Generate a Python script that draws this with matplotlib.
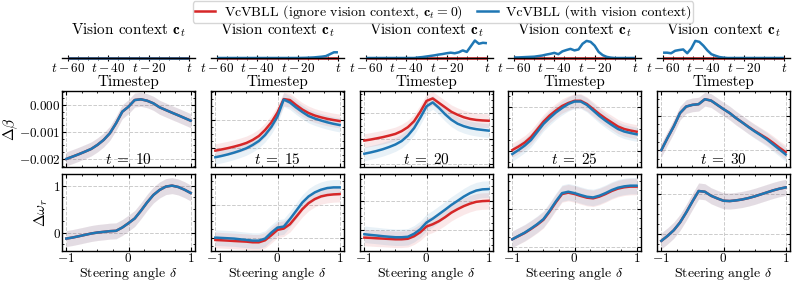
import numpy as np
import matplotlib
matplotlib.use("Agg")
import matplotlib.pyplot as plt
from matplotlib.ticker import AutoMinorLocator, MultipleLocator, FixedLocator

plt.rcParams.update({
    "font.family": "serif",
    "font.serif": ["cmr10", "DejaVu Serif"],
    "mathtext.fontset": "cm",
    "axes.formatter.use_mathtext": True,
    "axes.unicode_minus": True,
    "font.size": 11,
})

RED = "#d62728"
BLUE = "#1f77b4"

# ---------------- data ----------------
time_steps = [-60, -58, -56, -54, -52, -50, -48, -46, -44, -42, -40, -38, -36, -34, -32, -30,
              -28, -26, -24, -22, -20, -18, -16, -14, -12, -10, -8, -6, -4, -2, 0]
time_tick_labels = ["$t-60$", "$t-40$", "$t-20$", "$t$"]
t_values = [10, 15, 20, 25, 30]

ctx_t10 = [0.0] * 31
ctx_t15 = [0, 0, 0, 0, 0, 0, 0, 0, 0, 0, 0, 0, 0, 0, 0, 0, 0, 0, 0, 0, 0,
           0.005, 0.01, 0.02, 0.03, 0.05, 0.07, 0.10, 0.20, 0.30, 0.30]
ctx_t20 = [0, 0, 0, 0, 0, 0, 0, 0, 0, 0, 0, 0, 0,
           0.03, 0.05, 0.08, 0.11, 0.14, 0.18, 0.21, 0.25, 0.28, 0.25, 0.30, 0.40, 0.32,
           0.62, 0.92, 0.75, 0.80, 0.78]
ctx_t25 = [0.03, 0.03, 0.04, 0.05, 0.06, 0.07, 0.10, 0.13, 0.18, 0.22, 0.27, 0.20, 0.35,
           0.42, 0.48, 0.40, 0.45, 0.75, 0.90, 0.85, 0.65, 0.32, 0.15, 0.06, 0.02, 0.0,
           0, 0, 0, 0, 0]
ctx_t30 = [0.28, 0.28, 0.25, 0.38, 0.42, 0.45, 0.25, 0.50, 0.90, 0.85, 0.65, 0.40, 0.20,
           0.12, 0.05, 0.02, 0, 0, 0, 0, 0, 0, 0, 0, 0, 0, 0, 0, 0, 0, 0]
ctx_zero = [0.0] * 31

delta = [-1.0, -0.9, -0.8, -0.7, -0.6, -0.5, -0.4, -0.3, -0.2, -0.1, 0.0,
         0.1, 0.2, 0.3, 0.4, 0.5, 0.6, 0.7, 0.8, 0.9, 1.0]

# Delta beta (x 1e-3)
beta_blue_t10 = [-2.0, -1.915, -1.826, -1.730, -1.63, -1.48, -1.296, -1.048, -0.678, -0.248, -0.063,
                 0.185, 0.211, 0.159, 0.063, -0.085, -0.185, -0.285, -0.381, -0.481, -0.581]
beta_red_t10 = beta_blue_t10
beta_red_t15 = [-1.108, -1.065, -1.018, -0.964, -0.903, -0.830, -0.722, -0.578, -0.361, -0.090, 0.271,
                0.758, 0.722, 0.542, 0.379, 0.253, 0.162, 0.097, 0.043, 0.0, -0.036]
beta_blue_t15 = [-1.347, -1.300, -1.245, -1.181, -1.108, -1.022, -0.903, -0.758, -0.542, -0.253, 0.126,
                 0.740, 0.632, 0.451, 0.289, 0.144, 0.054, -0.018, -0.083, -0.137, -0.181]
beta_red_t20 = [-1.078, -1.039, -0.992, -0.942, -0.883, -0.817, -0.708, -0.553, -0.319, 0.051, 0.479,
                0.576, 0.401, 0.226, 0.051, -0.066, -0.163, -0.229, -0.268, -0.288, -0.300]
beta_blue_t20 = [-1.595, -1.545, -1.486, -1.416, -1.331, -1.233, -1.097, -0.883, -0.591, -0.183, 0.265,
                 0.420, 0.206, -0.047, -0.261, -0.416, -0.514, -0.584, -0.630, -0.661, -0.689]
beta_red_t25 = [-0.984, -0.905, -0.814, -0.689, -0.518, -0.341, -0.200, -0.086, 0.016, 0.084, 0.134,
                0.134, 0.061, -0.052, -0.166, -0.268, -0.359, -0.450, -0.507, -0.541, -0.568]
beta_blue_t25 = [-1.075, -0.984, -0.882, -0.757, -0.575, -0.393, -0.257, -0.132, -0.030, 0.061, 0.118,
                 0.118, 0.039, -0.086, -0.211, -0.318, -0.416, -0.507, -0.564, -0.598, -0.627]
beta_blue_t30 = [-0.999, -0.643, -0.308, 0.078, 0.268, 0.317, 0.337, 0.481, 0.441, 0.317, 0.193,
                 0.078, -0.066, -0.193, -0.326, -0.452, -0.568, -0.692, -0.836, -0.980, -1.124]
beta_red_t30 = [-0.999, -0.643, -0.308, 0.078, 0.268, 0.317, 0.337, 0.481, 0.441, 0.317, 0.193,
                0.078, -0.066, -0.190, -0.320, -0.440, -0.550, -0.660, -0.790, -0.930, -1.058]

# Delta omega_r
omega_blue_t10 = [-0.129, -0.107, -0.079, -0.050, -0.021, 0.0, 0.014, 0.029, 0.036, 0.107, 0.200,
                  0.300, 0.464, 0.643, 0.800, 0.907, 0.979, 1.000, 0.971, 0.914, 0.843]
omega_red_t10 = omega_blue_t10
omega_blue_t15 = [0.0, -0.005, -0.010, -0.015, -0.026, -0.036, -0.046, -0.046, -0.015, 0.077, 0.155,
                  0.170, 0.284, 0.412, 0.541, 0.634, 0.696, 0.737, 0.763, 0.773, 0.773]
omega_red_t15 = [-0.036, -0.041, -0.046, -0.052, -0.057, -0.062, -0.072, -0.072, -0.041, 0.036, 0.119,
                 0.139, 0.206, 0.320, 0.438, 0.531, 0.593, 0.634, 0.655, 0.665, 0.670]
omega_blue_t20 = [-0.068, -0.080, -0.090, -0.102, -0.111, -0.119, -0.119, -0.111, -0.060, 0.017, 0.131,
                  0.196, 0.273, 0.350, 0.430, 0.500, 0.572, 0.631, 0.674, 0.695, 0.700]
omega_red_t20 = [-0.125, -0.130, -0.137, -0.142, -0.148, -0.154, -0.154, -0.145, -0.102, -0.034, 0.063,
                 0.102, 0.154, 0.222, 0.299, 0.358, 0.410, 0.452, 0.483, 0.495, 0.500]
omega_blue_t25 = [0.098, 0.143, 0.187, 0.241, 0.299, 0.366, 0.478, 0.603, 0.714, 0.732, 0.714,
                  0.688, 0.665, 0.656, 0.679, 0.714, 0.755, 0.786, 0.804, 0.813, 0.813]
omega_red_t25 = [0.098, 0.140, 0.182, 0.235, 0.292, 0.358, 0.468, 0.591, 0.702, 0.720, 0.702,
                 0.676, 0.653, 0.644, 0.667, 0.702, 0.743, 0.774, 0.792, 0.801, 0.801]
omega_blue_t30 = [-0.083, -0.021, 0.050, 0.146, 0.271, 0.408, 0.538, 0.529, 0.479, 0.446, 0.417,
                  0.413, 0.421, 0.433, 0.450, 0.471, 0.496, 0.521, 0.546, 0.567, 0.583]
omega_red_t30 = omega_blue_t30

beta_std = [0.26e-3, 0.25e-3, 0.27e-3, 0.16e-3, 0.20e-3]
omega_std = [0.17, 0.12, 0.14, 0.11, 0.10]

ctx_blue = [ctx_t10, ctx_t15, ctx_t20, ctx_t25, ctx_t30]
beta_red = [beta_red_t10, beta_red_t15, beta_red_t20, beta_red_t25, beta_red_t30]
beta_blue = [beta_blue_t10, beta_blue_t15, beta_blue_t20, beta_blue_t25, beta_blue_t30]
omega_red = [omega_red_t10, omega_red_t15, omega_red_t20, omega_red_t25, omega_red_t30]
omega_blue = [omega_blue_t10, omega_blue_t15, omega_blue_t20, omega_blue_t25, omega_blue_t30]

# axis settings (layout / styling)
beta_ylims = [(-2.3e-3, 0.52e-3), (-1.70e-3, 1.05e-3), (-2.117e-3, 0.868e-3),
              (-1.37e-3, 0.357e-3), (-1.49e-3, 0.72e-3)]
beta_yticks = [[-2e-3, -1e-3, 0.0], [-1e-3, 0.0], [-2e-3, -1e-3, 0.0], [-1e-3, 0.0], [-1e-3, 0.0]]
omega_ylims = [(-0.394, 1.248), (-0.206, 0.979), (-0.353, 0.956), (-0.059, 0.969), (-0.209, 0.75)]
omega_yticks = [[0, 1], [0, 0.5], [0, 0.5], [0, 0.5], [0, 0.5]]

W, H = 794, 282
fig = plt.figure(figsize=(W / 100, H / 100), dpi=100)

lefts = [62, 211, 360, 508, 657]
width = 133


def ax_at(left, top, w, h):
    return fig.add_axes([left / W, 1 - (top + h) / H, w / W, h / H])


def style_box(ax):
    for s in ax.spines.values():
        s.set_linewidth(1.0)
    ax.tick_params(which="both", direction="in", top=True, right=True, labelsize=9.5, pad=1.0)
    ax.tick_params(which="major", length=3, width=0.8)
    ax.tick_params(which="minor", length=1.6, width=0.6)
    ax.grid(True, which="major", linestyle="--", color="#cccccc", linewidth=0.7)
    ax.set_axisbelow(True)


dx = np.array(delta)
for i in range(5):
    # --- context row ---
    ax = ax_at(lefts[i], 39, width, 19)
    ax.plot(time_steps, ctx_zero, color=RED, lw=1.8, clip_on=False, solid_capstyle="butt")
    ax.plot(time_steps, ctx_blue[i], color=BLUE, lw=1.8, clip_on=False, solid_capstyle="butt")
    ax.set_ylim(0, 1)
    ax.set_xlim(-63, 3)
    for s in ["left", "right", "top"]:
        ax.spines[s].set_visible(False)
    ax.spines["bottom"].set_linewidth(1.0)
    ax.set_yticks([])
    ax.set_xticks([-60, -40, -20, 0])
    ax.set_xticklabels(time_tick_labels)
    ax.xaxis.set_minor_locator(MultipleLocator(5))
    ax.tick_params(which="both", direction="inout", labelsize=9.5, pad=1)
    ax.tick_params(which="major", length=4, width=0.8)
    ax.tick_params(which="minor", length=2.5, width=0.6)
    ax.set_xlabel("Timestep", fontsize=11, labelpad=0)
    ax.set_title(r"Vision context $\mathbf{c}_t$", fontsize=11, pad=0)
    ax.patch.set_alpha(0)

    # --- Delta beta row ---
    ax = ax_at(lefts[i], 91, width, 76)
    style_box(ax)
    br = np.array(beta_red[i]) * 1e-3
    bb = np.array(beta_blue[i]) * 1e-3
    ax.fill_between(dx, br - beta_std[i], br + beta_std[i], color=RED, alpha=0.10, lw=0)
    ax.fill_between(dx, bb - beta_std[i], bb + beta_std[i], color=BLUE, alpha=0.10, lw=0)
    ax.plot(dx, br, color=RED, lw=1.8)
    ax.plot(dx, bb, color=BLUE, lw=1.8)
    ax.set_xlim(-1.07, 1.07)
    ax.set_ylim(*beta_ylims[i])
    ax.set_xticks([-1, 0, 1])
    ax.xaxis.set_minor_locator(MultipleLocator(0.25))
    ax.yaxis.set_major_locator(FixedLocator(beta_yticks[i]))
    ax.yaxis.set_minor_locator(MultipleLocator(0.25e-3))
    ax.tick_params(labelbottom=False)
    if i == 0:
        ax.set_yticklabels(["$-0.002$", "$-0.001$", "$0.000$"])
        ax.set_ylabel(r"$\Delta\beta$", fontsize=11, labelpad=-1)
    else:
        ax.tick_params(labelleft=False)
    ax.text(0.5, 0.1, r"$t\;=\;%d$" % t_values[i], transform=ax.transAxes,
            ha="center", va="center", fontsize=11)

    # --- Delta omega row ---
    ax = ax_at(lefts[i], 174, width, 77)
    style_box(ax)
    orr = np.array(omega_red[i])
    ob = np.array(omega_blue[i])
    ax.fill_between(dx, orr - omega_std[i], orr + omega_std[i], color=RED, alpha=0.10, lw=0)
    ax.fill_between(dx, ob - omega_std[i], ob + omega_std[i], color=BLUE, alpha=0.10, lw=0)
    ax.plot(dx, orr, color=RED, lw=1.8)
    ax.plot(dx, ob, color=BLUE, lw=1.8)
    ax.set_xlim(-1.07, 1.07)
    ax.set_ylim(*omega_ylims[i])
    ax.set_xticks([-1, 0, 1])
    ax.set_xticklabels(["$-1$", "$0$", "$1$"])
    ax.xaxis.set_minor_locator(MultipleLocator(0.25))
    ax.yaxis.set_major_locator(FixedLocator(omega_yticks[i]))
    ax.yaxis.set_minor_locator(AutoMinorLocator(4))
    ax.set_xlabel(r"Steering angle $\delta$", fontsize=10, labelpad=-0.5)
    if i == 0:
        ax.set_yticklabels(["$0$", "$1$"])
        ax.set_ylabel(r"$\Delta\omega_r$", fontsize=11, labelpad=2)
    else:
        ax.tick_params(labelleft=False)

handles = [plt.Line2D([], [], color=RED, lw=1.8), plt.Line2D([], [], color=BLUE, lw=1.8)]
labels = [r"VcVBLL (ignore vision context, $\mathbf{c}_t = 0$)", "VcVBLL (with vision context)"]
fig.legend(handles, labels, loc="upper center", bbox_to_anchor=(443 / W, 1 - 1 / H), ncol=2,
           fontsize=10, frameon=True, handlelength=1.5, columnspacing=1.0, borderpad=0.15,
           handletextpad=0.6, borderaxespad=0)

fig.savefig("out.png", dpi=100)
